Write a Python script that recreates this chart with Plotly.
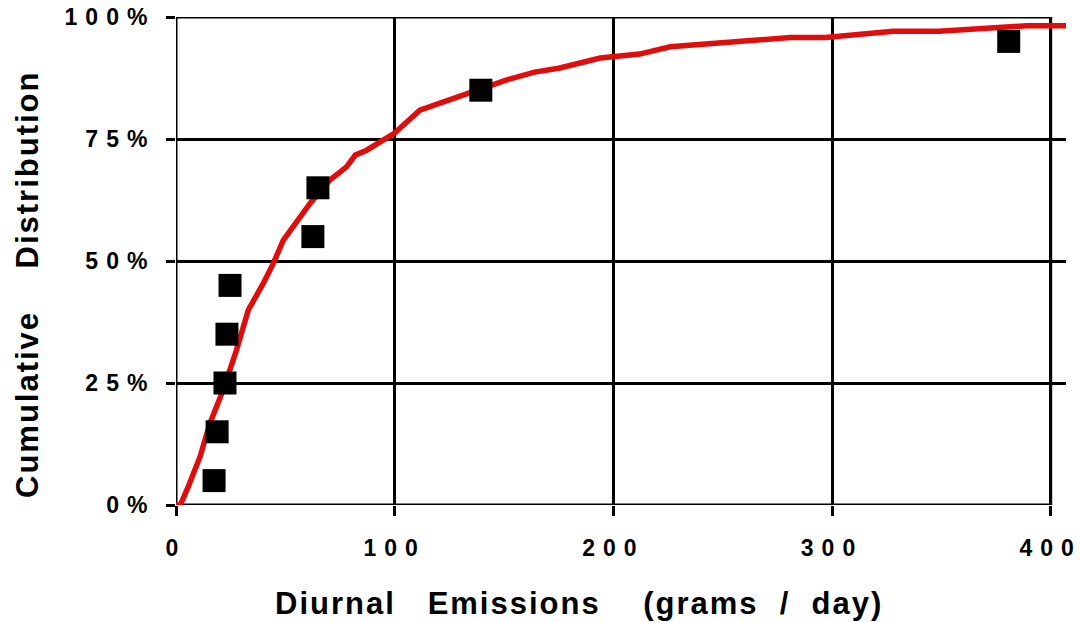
import plotly.graph_objects as go

# ---- data ----
curve_x = [0, 2, 5.6, 11, 15.5, 21.6, 27.7, 33.1, 39.9, 44.5, 49.1, 55.2, 61.3, 70.4, 78, 82,
           87.2, 100, 111.5, 125, 139, 152, 164, 175, 194, 212, 226, 262, 281, 297, 328, 349,
           377, 389, 407]
curve_y = [0, 0, 3.75, 9.9, 16.7, 23.6, 31.8, 40, 45.4, 49.5, 54.3, 58.1, 61.8, 66.6, 69.3, 71.7,
           72.7, 76.2, 80.9, 83, 85.2, 87.2, 88.7, 89.5, 91.6, 92.4, 93.9, 95.3, 95.8, 95.8, 97.1, 97.1,
           98, 98.2, 98.2]
obs_x = [17.4, 18.8, 22.4, 23.3, 24.7, 62.6, 64.9, 139.4, 380.8]
obs_y = [5, 15, 25, 35, 45, 55, 65, 85, 95]

x_ticks = [0, 100, 200, 300, 400]
x_labels = ["0", "100", "200", "300", "400"]
y_ticks = [0, 25, 50, 75, 100]
y_labels = ["0%", "25%", "50%", "75%", "100%"]

FONT = "Liberation Sans, Arial, sans-serif"
SP = "letter-spacing:8px"


def spaced(t, sp=SP):
    return f'<span style="{sp}">{t}</span>'


fig = go.Figure()
fig.add_trace(go.Scatter(x=curve_x, y=curve_y, mode="lines",
                         line=dict(color="#E00D0D", width=5.5), hoverinfo="skip"))
fig.add_trace(go.Scatter(x=obs_x, y=obs_y, mode="markers",
                         marker=dict(symbol="square", size=23, color="black"),
                         cliponaxis=False))

# frame (0..400 x 0..100)
fig.add_shape(type="rect", xref="x", yref="y", x0=0, x1=400, y0=0, y1=100,
              line=dict(color="black", width=3), layer="below")

fig.update_layout(
    width=1081, height=622,
    margin=dict(l=176, r=15, t=17, b=117, autoexpand=False),
    paper_bgcolor="white", plot_bgcolor="white",
    showlegend=False,
    font=dict(family=FONT, color="black", size=23, weight=700),
    xaxis=dict(range=[0, 407], tickvals=x_ticks, ticktext=[spaced(t) for t in x_labels],
               showgrid=True, gridcolor="black", gridwidth=2.5, zeroline=False,
               showline=False, ticks="outside", ticklen=10, tickwidth=2.5, tickcolor="black",
               automargin=False, ticklabeloverflow="allow",
               ticklabelstandoff=12, tickfont=dict(size=23, family=FONT, weight=700)),
    yaxis=dict(range=[0, 100], tickvals=y_ticks, ticktext=[spaced(t) for t in y_labels],
               showgrid=True, gridcolor="black", gridwidth=2.5, zeroline=False,
               showline=False, ticks="outside", ticklen=9, tickwidth=2.5, tickcolor="black",
               automargin=False, ticklabeloverflow="allow",
               ticklabelstandoff=6, tickfont=dict(size=23, family=FONT, weight=700)),
)

NB = "\u00a0"
fig.add_annotation(xref="paper", yref="paper", x=(578.5 - 176) / 890, y=(505 - 603) / 488,
                   xanchor="center", yanchor="middle", showarrow=False,
                   text=spaced(f"Diurnal{NB*3}Emissions{NB*4}(grams{NB*2}/{NB*2}day)", "letter-spacing:2px"),
                   font=dict(size=31, family=FONT, weight=700, color="black"))
fig.add_annotation(xref="paper", yref="paper", x=(27 - 176) / 890, y=(505 - 285) / 488,
                   xanchor="center", yanchor="middle", showarrow=False, textangle=-90,
                   text=spaced(f"Cumulative{NB*4}Distribution", "letter-spacing:2px"),
                   font=dict(size=31, family=FONT, weight=700, color="black"))

fig.write_html("out.html")
